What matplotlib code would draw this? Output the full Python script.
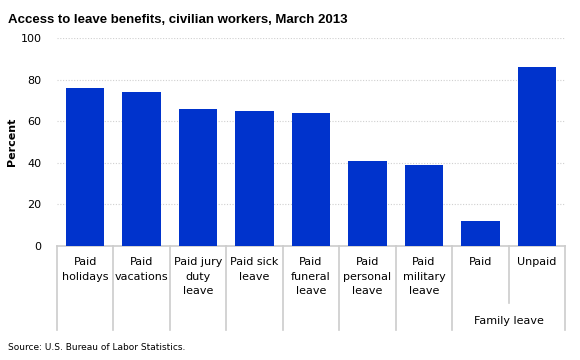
import matplotlib.pyplot as plt
import numpy as np

labels = ['Paid\nholidays', 'Paid\nvacations', 'Paid jury\nduty\nleave', 'Paid sick\nleave',
          'Paid\nfuneral\nleave', 'Paid\npersonal\nleave', 'Paid\nmilitary\nleave', 'Paid', 'Unpaid']
values = [76, 74, 66, 65, 64, 41, 39, 12, 86]
group_label = 'Family leave'

bar_color = '#0033cc'
grid_color = '#d0d0d0'

fig = plt.figure(figsize=(5.8, 3.6), dpi=100)
ax = fig.add_axes([57/580, 1-246/360, 508/580, 208/360])

x = np.arange(len(values))
ax.bar(x, values, width=0.68, color=bar_color, zorder=3)
ax.set_xlim(-0.5, len(values)-0.5)
ax.set_ylim(0, 100)
ax.set_yticks([0, 20, 40, 60, 80, 100])
ax.tick_params(axis='y', length=0, labelsize=8, pad=11)
ax.set_xticks([])
ax.yaxis.grid(True, linestyle=(0, (1, 1.5)), color=grid_color, linewidth=0.8, zorder=0)
for s in ['top', 'right', 'left']:
    ax.spines[s].set_visible(False)
ax.spines['bottom'].set_color('#cccccc')
ax.spines['bottom'].set_linewidth(1.2)
ax.set_ylabel('Percent', fontsize=8, fontweight='bold')
ax.yaxis.set_label_coords(-40/508, 0.5)

# category labels under the axis
trans = ax.get_xaxis_transform()
for i, lab in enumerate(labels):
    ax.text(i, -0.055, lab, transform=trans, ha='center', va='top',
            fontsize=8, linespacing=1.55)

# separators
for b in np.arange(-0.5, len(values), 1.0):
    y_end = -0.275 if b == 7.5 else -0.405
    ax.plot([b, b], [0, y_end], transform=trans, color='#cccccc',
            linewidth=1.2, clip_on=False)

ax.text(7.5, -0.36, group_label, transform=trans, ha='center', va='center', fontsize=8)

fig.text(8/580, 1-20/360, 'Access to leave benefits, civilian workers, March 2013',
         fontsize=9.5, fontweight='bold', family='Liberation Sans', va='center', ha='left')
fig.text(8/580, 1-347/360, 'Source: U.S. Bureau of Labor Statistics.',
         fontsize=6.5, va='center', ha='left')

fig.savefig('out.png', dpi=100)
